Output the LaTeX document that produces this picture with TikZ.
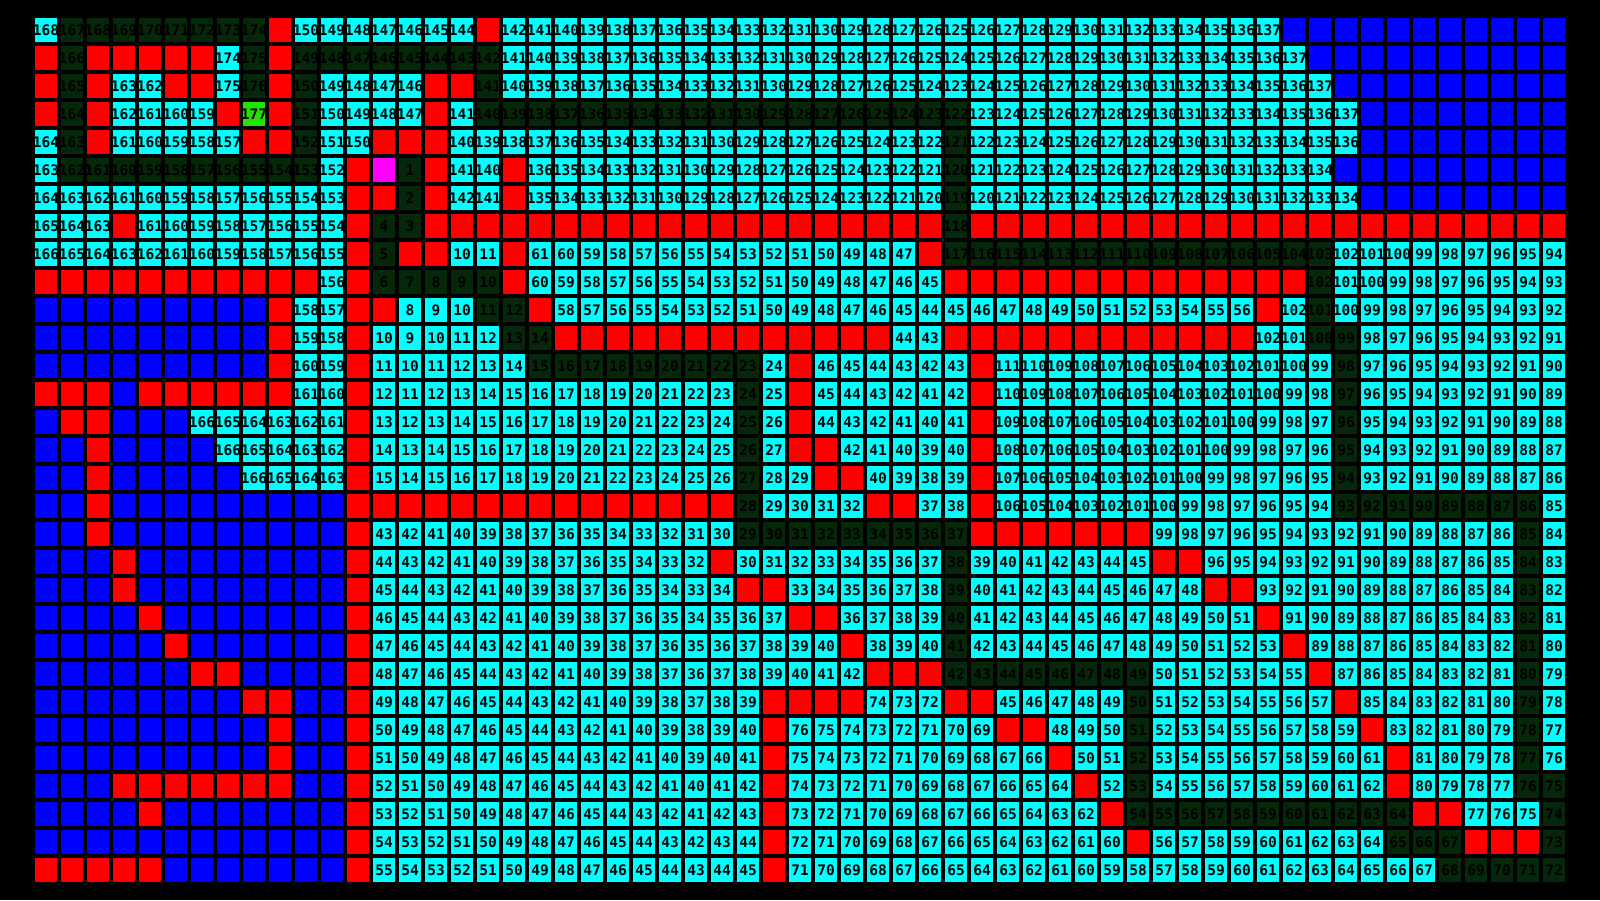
\documentclass[tikz,border=0pt]{standalone}
\usepackage{fontspec}
\setmonofont{DejaVu Sans Mono}

% one row of the distance grid: #1 = row index, #2 = kind/value list
% kinds: c open, g path, r wall, b unreached, m start, e goal
\newcommand{\bfsRow}[2]{%
  \foreach \kind/\val [count=\col from 0] in {#2} {
    \fill[cell\kind] (35+26*\col, 18+28*#1) rectangle ++(22,24);
    \node[celltext] (r#1c\col) at (46+26*\col, 30+28*#1) {\val};
  }%
}

\begin{document}
\begin{tikzpicture}[x=1pt, y=-1pt,
  cellc/.style={fill={rgb,1:red,0.000;green,1.000;blue,1.000}},
  cellg/.style={fill={rgb,1:red,0.020;green,0.157;blue,0.039}},
  cellr/.style={fill={rgb,1:red,1.000;green,0.000;blue,0.000}},
  cellb/.style={fill={rgb,1:red,0.000;green,0.000;blue,1.000}},
  cellm/.style={fill={rgb,1:red,1.000;green,0.000;blue,1.000}},
  celle/.style={fill={rgb,1:red,0.133;green,0.890;blue,0.000}},
  celltext/.style={inner sep=0pt, text=black, font=\ttfamily\bfseries\fontsize{14.5}{14.5}\selectfont}]
  \useasboundingbox (0,0) rectangle (1600,900);
  % Background
  \fill[black] (0,0) rectangle (1600,900);
  % Rows
  \bfsRow{0}{c/168,g/167,g/168,g/169,g/170,g/171,g/172,g/173,g/174,r/,c/150,c/149,c/148,c/147,c/146,c/145,c/144,r/,c/142,c/141,c/140,c/139,c/138,c/137,c/136,c/135,c/134,c/133,c/132,c/131,
    c/130,c/129,c/128,c/127,c/126,c/125,c/126,c/127,c/128,c/129,c/130,c/131,c/132,c/133,c/134,c/135,c/136,c/137,b/,b/,b/,b/,b/,b/,b/,b/,b/,b/,b/}
  \bfsRow{1}{r/,g/166,r/,r/,r/,r/,r/,c/174,g/175,r/,g/149,g/148,g/147,g/146,g/145,g/144,g/143,g/142,c/141,c/140,c/139,c/138,c/137,c/136,c/135,c/134,c/133,c/132,c/131,c/130,
    c/129,c/128,c/127,c/126,c/125,c/124,c/125,c/126,c/127,c/128,c/129,c/130,c/131,c/132,c/133,c/134,c/135,c/136,c/137,b/,b/,b/,b/,b/,b/,b/,b/,b/,b/}
  \bfsRow{2}{r/,g/165,r/,c/163,c/162,r/,r/,c/175,g/176,r/,g/150,c/149,c/148,c/147,c/146,r/,r/,g/141,c/140,c/139,c/138,c/137,c/136,c/135,c/134,c/133,c/132,c/131,c/130,c/129,
    c/128,c/127,c/126,c/125,c/124,c/123,c/124,c/125,c/126,c/127,c/128,c/129,c/130,c/131,c/132,c/133,c/134,c/135,c/136,c/137,b/,b/,b/,b/,b/,b/,b/,b/,b/}
  \bfsRow{3}{r/,g/164,r/,c/162,c/161,c/160,c/159,r/,e/177,r/,g/151,c/150,c/149,c/148,c/147,r/,c/141,g/140,g/139,g/138,g/137,g/136,g/135,g/134,g/133,g/132,g/131,g/130,g/129,g/128,
    g/127,g/126,g/125,g/124,g/123,g/122,c/123,c/124,c/125,c/126,c/127,c/128,c/129,c/130,c/131,c/132,c/133,c/134,c/135,c/136,c/137,b/,b/,b/,b/,b/,b/,b/,b/}
  \bfsRow{4}{c/164,g/163,r/,c/161,c/160,c/159,c/158,c/157,r/,r/,g/152,c/151,c/150,r/,r/,r/,c/140,c/139,c/138,c/137,c/136,c/135,c/134,c/133,c/132,c/131,c/130,c/129,c/128,c/127,
    c/126,c/125,c/124,c/123,c/122,g/121,c/122,c/123,c/124,c/125,c/126,c/127,c/128,c/129,c/130,c/131,c/132,c/133,c/134,c/135,c/136,b/,b/,b/,b/,b/,b/,b/,b/}
  \bfsRow{5}{c/163,g/162,g/161,g/160,g/159,g/158,g/157,g/156,g/155,g/154,g/153,c/152,r/,m/,g/1,r/,c/141,c/140,r/,c/136,c/135,c/134,c/133,c/132,c/131,c/130,c/129,c/128,c/127,c/126,
    c/125,c/124,c/123,c/122,c/121,g/120,c/121,c/122,c/123,c/124,c/125,c/126,c/127,c/128,c/129,c/130,c/131,c/132,c/133,c/134,b/,b/,b/,b/,b/,b/,b/,b/,b/}
  \bfsRow{6}{c/164,c/163,c/162,c/161,c/160,c/159,c/158,c/157,c/156,c/155,c/154,c/153,r/,r/,g/2,r/,c/142,c/141,r/,c/135,c/134,c/133,c/132,c/131,c/130,c/129,c/128,c/127,c/126,c/125,
    c/124,c/123,c/122,c/121,c/120,g/119,c/120,c/121,c/122,c/123,c/124,c/125,c/126,c/127,c/128,c/129,c/130,c/131,c/132,c/133,c/134,b/,b/,b/,b/,b/,b/,b/,b/}
  \bfsRow{7}{c/165,c/164,c/163,r/,c/161,c/160,c/159,c/158,c/157,c/156,c/155,c/154,r/,g/4,g/3,r/,r/,r/,r/,r/,r/,r/,r/,r/,r/,r/,r/,r/,r/,r/,
    r/,r/,r/,r/,r/,g/118,r/,r/,r/,r/,r/,r/,r/,r/,r/,r/,r/,r/,r/,r/,r/,r/,r/,r/,r/,r/,r/,r/,r/}
  \bfsRow{8}{c/166,c/165,c/164,c/163,c/162,c/161,c/160,c/159,c/158,c/157,c/156,c/155,r/,g/5,r/,r/,c/10,c/11,r/,c/61,c/60,c/59,c/58,c/57,c/56,c/55,c/54,c/53,c/52,c/51,
    c/50,c/49,c/48,c/47,r/,g/117,g/116,g/115,g/114,g/113,g/112,g/111,g/110,g/109,g/108,g/107,g/106,g/105,g/104,g/103,c/102,c/101,c/100,c/99,c/98,c/97,c/96,c/95,c/94}
  \bfsRow{9}{r/,r/,r/,r/,r/,r/,r/,r/,r/,r/,r/,c/156,r/,g/6,g/7,g/8,g/9,g/10,r/,c/60,c/59,c/58,c/57,c/56,c/55,c/54,c/53,c/52,c/51,c/50,
    c/49,c/48,c/47,c/46,c/45,r/,r/,r/,r/,r/,r/,r/,r/,r/,r/,r/,r/,r/,r/,g/102,c/101,c/100,c/99,c/98,c/97,c/96,c/95,c/94,c/93}
  \bfsRow{10}{b/,b/,b/,b/,b/,b/,b/,b/,b/,r/,c/158,c/157,r/,r/,c/8,c/9,c/10,g/11,g/12,r/,c/58,c/57,c/56,c/55,c/54,c/53,c/52,c/51,c/50,c/49,
    c/48,c/47,c/46,c/45,c/44,c/45,c/46,c/47,c/48,c/49,c/50,c/51,c/52,c/53,c/54,c/55,c/56,r/,c/102,g/101,c/100,c/99,c/98,c/97,c/96,c/95,c/94,c/93,c/92}
  \bfsRow{11}{b/,b/,b/,b/,b/,b/,b/,b/,b/,r/,c/159,c/158,r/,c/10,c/9,c/10,c/11,c/12,g/13,g/14,r/,r/,r/,r/,r/,r/,r/,r/,r/,r/,
    r/,r/,r/,c/44,c/43,r/,r/,r/,r/,r/,r/,r/,r/,r/,r/,r/,r/,c/102,c/101,g/100,g/99,c/98,c/97,c/96,c/95,c/94,c/93,c/92,c/91}
  \bfsRow{12}{b/,b/,b/,b/,b/,b/,b/,b/,b/,r/,c/160,c/159,r/,c/11,c/10,c/11,c/12,c/13,c/14,g/15,g/16,g/17,g/18,g/19,g/20,g/21,g/22,g/23,c/24,r/,
    c/46,c/45,c/44,c/43,c/42,c/43,r/,c/111,c/110,c/109,c/108,c/107,c/106,c/105,c/104,c/103,c/102,c/101,c/100,c/99,g/98,c/97,c/96,c/95,c/94,c/93,c/92,c/91,c/90}
  \bfsRow{13}{r/,r/,r/,b/,r/,r/,r/,r/,r/,r/,c/161,c/160,r/,c/12,c/11,c/12,c/13,c/14,c/15,c/16,c/17,c/18,c/19,c/20,c/21,c/22,c/23,g/24,c/25,r/,
    c/45,c/44,c/43,c/42,c/41,c/42,r/,c/110,c/109,c/108,c/107,c/106,c/105,c/104,c/103,c/102,c/101,c/100,c/99,c/98,g/97,c/96,c/95,c/94,c/93,c/92,c/91,c/90,c/89}
  \bfsRow{14}{b/,r/,r/,b/,b/,b/,c/166,c/165,c/164,c/163,c/162,c/161,r/,c/13,c/12,c/13,c/14,c/15,c/16,c/17,c/18,c/19,c/20,c/21,c/22,c/23,c/24,g/25,c/26,r/,
    c/44,c/43,c/42,c/41,c/40,c/41,r/,c/109,c/108,c/107,c/106,c/105,c/104,c/103,c/102,c/101,c/100,c/99,c/98,c/97,g/96,c/95,c/94,c/93,c/92,c/91,c/90,c/89,c/88}
  \bfsRow{15}{b/,b/,r/,b/,b/,b/,b/,c/166,c/165,c/164,c/163,c/162,r/,c/14,c/13,c/14,c/15,c/16,c/17,c/18,c/19,c/20,c/21,c/22,c/23,c/24,c/25,g/26,c/27,r/,
    r/,c/42,c/41,c/40,c/39,c/40,r/,c/108,c/107,c/106,c/105,c/104,c/103,c/102,c/101,c/100,c/99,c/98,c/97,c/96,g/95,c/94,c/93,c/92,c/91,c/90,c/89,c/88,c/87}
  \bfsRow{16}{b/,b/,r/,b/,b/,b/,b/,b/,c/166,c/165,c/164,c/163,r/,c/15,c/14,c/15,c/16,c/17,c/18,c/19,c/20,c/21,c/22,c/23,c/24,c/25,c/26,g/27,c/28,c/29,
    r/,r/,c/40,c/39,c/38,c/39,r/,c/107,c/106,c/105,c/104,c/103,c/102,c/101,c/100,c/99,c/98,c/97,c/96,c/95,g/94,c/93,c/92,c/91,c/90,c/89,c/88,c/87,c/86}
  \bfsRow{17}{b/,b/,r/,b/,b/,b/,b/,b/,b/,b/,b/,b/,r/,r/,r/,r/,r/,r/,r/,r/,r/,r/,r/,r/,r/,r/,r/,g/28,c/29,c/30,
    c/31,c/32,r/,r/,c/37,c/38,r/,c/106,c/105,c/104,c/103,c/102,c/101,c/100,c/99,c/98,c/97,c/96,c/95,c/94,g/93,g/92,g/91,g/90,g/89,g/88,g/87,g/86,c/85}
  \bfsRow{18}{b/,b/,r/,b/,b/,b/,b/,b/,b/,b/,b/,b/,r/,c/43,c/42,c/41,c/40,c/39,c/38,c/37,c/36,c/35,c/34,c/33,c/32,c/31,c/30,g/29,g/30,g/31,
    g/32,g/33,g/34,g/35,g/36,g/37,r/,r/,r/,r/,r/,r/,r/,c/99,c/98,c/97,c/96,c/95,c/94,c/93,c/92,c/91,c/90,c/89,c/88,c/87,c/86,g/85,c/84}
  \bfsRow{19}{b/,b/,b/,r/,b/,b/,b/,b/,b/,b/,b/,b/,r/,c/44,c/43,c/42,c/41,c/40,c/39,c/38,c/37,c/36,c/35,c/34,c/33,c/32,r/,c/30,c/31,c/32,
    c/33,c/34,c/35,c/36,c/37,g/38,c/39,c/40,c/41,c/42,c/43,c/44,c/45,r/,r/,c/96,c/95,c/94,c/93,c/92,c/91,c/90,c/89,c/88,c/87,c/86,c/85,g/84,c/83}
  \bfsRow{20}{b/,b/,b/,r/,b/,b/,b/,b/,b/,b/,b/,b/,r/,c/45,c/44,c/43,c/42,c/41,c/40,c/39,c/38,c/37,c/36,c/35,c/34,c/33,c/34,r/,r/,c/33,
    c/34,c/35,c/36,c/37,c/38,g/39,c/40,c/41,c/42,c/43,c/44,c/45,c/46,c/47,c/48,r/,r/,c/93,c/92,c/91,c/90,c/89,c/88,c/87,c/86,c/85,c/84,g/83,c/82}
  \bfsRow{21}{b/,b/,b/,b/,r/,b/,b/,b/,b/,b/,b/,b/,r/,c/46,c/45,c/44,c/43,c/42,c/41,c/40,c/39,c/38,c/37,c/36,c/35,c/34,c/35,c/36,c/37,r/,
    r/,c/36,c/37,c/38,c/39,g/40,c/41,c/42,c/43,c/44,c/45,c/46,c/47,c/48,c/49,c/50,c/51,r/,c/91,c/90,c/89,c/88,c/87,c/86,c/85,c/84,c/83,g/82,c/81}
  \bfsRow{22}{b/,b/,b/,b/,b/,r/,b/,b/,b/,b/,b/,b/,r/,c/47,c/46,c/45,c/44,c/43,c/42,c/41,c/40,c/39,c/38,c/37,c/36,c/35,c/36,c/37,c/38,c/39,
    c/40,r/,c/38,c/39,c/40,g/41,c/42,c/43,c/44,c/45,c/46,c/47,c/48,c/49,c/50,c/51,c/52,c/53,r/,c/89,c/88,c/87,c/86,c/85,c/84,c/83,c/82,g/81,c/80}
  \bfsRow{23}{b/,b/,b/,b/,b/,b/,r/,r/,b/,b/,b/,b/,r/,c/48,c/47,c/46,c/45,c/44,c/43,c/42,c/41,c/40,c/39,c/38,c/37,c/36,c/37,c/38,c/39,c/40,
    c/41,c/42,r/,r/,r/,g/42,g/43,g/44,g/45,g/46,g/47,g/48,g/49,c/50,c/51,c/52,c/53,c/54,c/55,r/,c/87,c/86,c/85,c/84,c/83,c/82,c/81,g/80,c/79}
  \bfsRow{24}{b/,b/,b/,b/,b/,b/,b/,b/,r/,r/,b/,b/,r/,c/49,c/48,c/47,c/46,c/45,c/44,c/43,c/42,c/41,c/40,c/39,c/38,c/37,c/38,c/39,r/,r/,
    r/,r/,c/74,c/73,c/72,r/,r/,c/45,c/46,c/47,c/48,c/49,g/50,c/51,c/52,c/53,c/54,c/55,c/56,c/57,r/,c/85,c/84,c/83,c/82,c/81,c/80,g/79,c/78}
  \bfsRow{25}{b/,b/,b/,b/,b/,b/,b/,b/,b/,r/,b/,b/,r/,c/50,c/49,c/48,c/47,c/46,c/45,c/44,c/43,c/42,c/41,c/40,c/39,c/38,c/39,c/40,r/,c/76,
    c/75,c/74,c/73,c/72,c/71,c/70,c/69,r/,r/,c/48,c/49,c/50,g/51,c/52,c/53,c/54,c/55,c/56,c/57,c/58,c/59,r/,c/83,c/82,c/81,c/80,c/79,g/78,c/77}
  \bfsRow{26}{b/,b/,b/,b/,b/,b/,b/,b/,b/,r/,b/,b/,r/,c/51,c/50,c/49,c/48,c/47,c/46,c/45,c/44,c/43,c/42,c/41,c/40,c/39,c/40,c/41,r/,c/75,
    c/74,c/73,c/72,c/71,c/70,c/69,c/68,c/67,c/66,r/,c/50,c/51,g/52,c/53,c/54,c/55,c/56,c/57,c/58,c/59,c/60,c/61,r/,c/81,c/80,c/79,c/78,g/77,c/76}
  \bfsRow{27}{b/,b/,b/,r/,r/,r/,r/,r/,r/,r/,b/,b/,r/,c/52,c/51,c/50,c/49,c/48,c/47,c/46,c/45,c/44,c/43,c/42,c/41,c/40,c/41,c/42,r/,c/74,
    c/73,c/72,c/71,c/70,c/69,c/68,c/67,c/66,c/65,c/64,r/,c/52,g/53,c/54,c/55,c/56,c/57,c/58,c/59,c/60,c/61,c/62,r/,c/80,c/79,c/78,c/77,g/76,g/75}
  \bfsRow{28}{b/,b/,b/,b/,r/,b/,b/,b/,b/,b/,b/,b/,r/,c/53,c/52,c/51,c/50,c/49,c/48,c/47,c/46,c/45,c/44,c/43,c/42,c/41,c/42,c/43,r/,c/73,
    c/72,c/71,c/70,c/69,c/68,c/67,c/66,c/65,c/64,c/63,c/62,r/,g/54,g/55,g/56,g/57,g/58,g/59,g/60,g/61,g/62,g/63,g/64,r/,r/,c/77,c/76,c/75,g/74}
  \bfsRow{29}{b/,b/,b/,b/,b/,b/,b/,b/,b/,b/,b/,b/,r/,c/54,c/53,c/52,c/51,c/50,c/49,c/48,c/47,c/46,c/45,c/44,c/43,c/42,c/43,c/44,r/,c/72,
    c/71,c/70,c/69,c/68,c/67,c/66,c/65,c/64,c/63,c/62,c/61,c/60,r/,c/56,c/57,c/58,c/59,c/60,c/61,c/62,c/63,c/64,g/65,g/66,g/67,r/,r/,r/,g/73}
  \bfsRow{30}{r/,r/,r/,r/,r/,b/,b/,b/,b/,b/,b/,b/,r/,c/55,c/54,c/53,c/52,c/51,c/50,c/49,c/48,c/47,c/46,c/45,c/44,c/43,c/44,c/45,r/,c/71,
    c/70,c/69,c/68,c/67,c/66,c/65,c/64,c/63,c/62,c/61,c/60,c/59,c/58,c/57,c/58,c/59,c/60,c/61,c/62,c/63,c/64,c/65,c/66,c/67,g/68,g/69,g/70,g/71,g/72}
\end{tikzpicture}
\end{document}
